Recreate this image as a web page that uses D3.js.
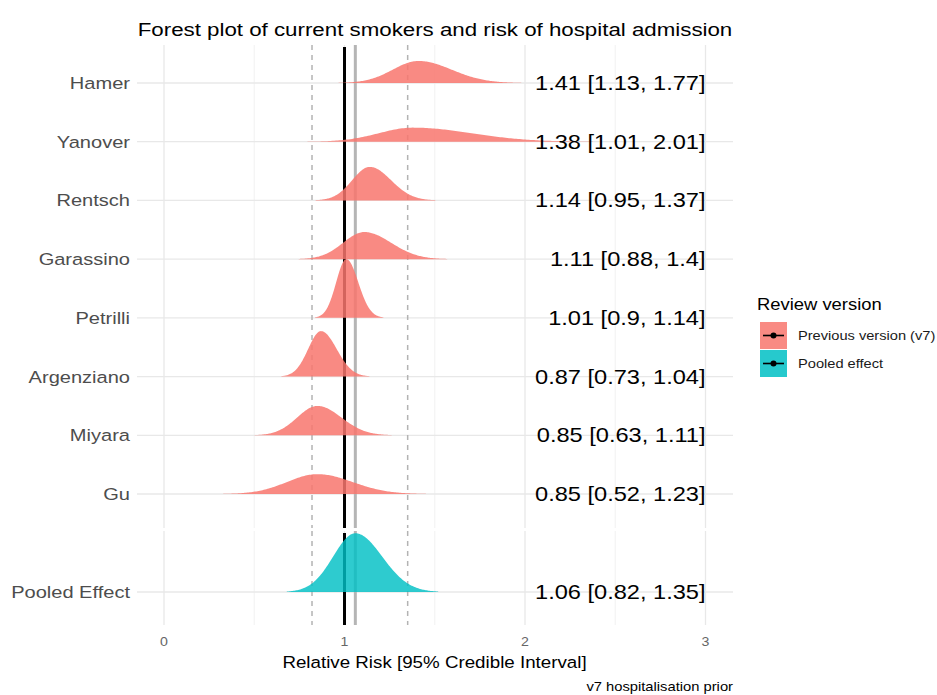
<!DOCTYPE html>
<html>
<head>
<meta charset="utf-8">
<script src="https://cdn.jsdelivr.net/npm/d3@7"></script>
<style>
  html, body { margin: 0; padding: 0; background: #ffffff; }
  svg { display: block; }
  text { font-family: "Liberation Sans", Arial, Helvetica, sans-serif; }
</style>
</head>
<body>
<svg id="chart" width="937" height="695"></svg>
<script>
// ---------------- data ----------------
const studies    = ["Hamer", "Yanover", "Rentsch", "Garassino", "Petrilli", "Argenziano", "Miyara", "Gu"];
const estimates  = [1.41, 1.38, 1.14, 1.11, 1.01, 0.87, 0.85, 0.85];
const lowers     = [1.13, 1.01, 0.95, 0.88, 0.90, 0.73, 0.63, 0.52];
const uppers     = [1.77, 2.01, 1.37, 1.40, 1.14, 1.04, 1.11, 1.23];

const pooledName     = "Pooled Effect";
const pooledEstimate = 1.06;
const pooledLower    = 0.82;
const pooledUpper    = 1.35;

const nullValue  = 1;
const xTicks     = [0, 1, 2, 3];
const xMinor     = [0.5, 1.5, 2.5];

const legendTitle  = "Review version";
const legendLabels = ["Previous version (v7)", "Pooled effect"];
const legendColors = ["#F8766D", "#00BFC4"];

const titleText   = "Forest plot of current smokers and risk of hospital admission";
const xTitleText  = "Relative Risk [95% Credible Interval]";
const captionText = "v7 hospitalisation prior";

// ---------------- layout ----------------
const svg = d3.select("#chart");
const SX = 1.18; // horizontal text stretch of the reference
const panelL = 137, panelR = 733;
const topPanel = { top: 45, bottom: 528 };
const botPanel = { top: 531, bottom: 625 };

const x = d3.scaleLinear().domain([0, 3]).range([164, 705.5]);
const nRows = studies.length;
const rowUnit = (494 - 83) / (nRows - 1);
const yTop = d3.scaleLinear()
  .domain([1 - (topPanel.bottom - 494) / rowUnit, nRows + (83 - topPanel.top) / rowUnit])
  .range([topPanel.bottom, topPanel.top]);
const yBot = d3.scaleLinear()
  .domain([1 - (botPanel.bottom - 592) / rowUnit, 1 + (592 - botPanel.top) / rowUnit])
  .range([botPanel.bottom, botPanel.top]);

function addText(parent, px, py, str, size, anchor, fill, weight) {
  return parent.append("text")
    .attr("transform", `translate(${px},${py}) scale(${SX},1)`)
    .attr("text-anchor", anchor || "start")
    .attr("font-size", size)
    .attr("font-weight", weight || "normal")
    .attr("fill", fill || "#000")
    .text(str);
}

// split-normal density curve derived from estimate and 95% interval
function densityCurve(est, lo, hi) {
  const sl = (est - lo) / 1.96, sr = (hi - est) / 1.96;
  const norm = 1 / (Math.sqrt(2 * Math.PI) * (sl + sr) / 2);
  const a = est - 3.1 * sl, b = est + 3.1 * sr;
  const n = 160, pts = [];
  for (let k = 0; k <= n; k++) {
    const v = a + (b - a) * k / n;
    const s = v < est ? sl : sr;
    const z = (v - est) / s;
    pts.push({ v, d: norm * Math.exp(-0.5 * z * z) });
  }
  return pts;
}

// ---------------- grid ----------------
const grid = svg.append("g");
[topPanel, botPanel].forEach(p => {
  xMinor.forEach(t => grid.append("line")
    .attr("x1", x(t)).attr("x2", x(t)).attr("y1", p.top).attr("y2", p.bottom)
    .attr("stroke", "#efefef").attr("stroke-width", 0.9));
  xTicks.forEach(t => grid.append("line")
    .attr("x1", x(t)).attr("x2", x(t)).attr("y1", p.top).attr("y2", p.bottom)
    .attr("stroke", "#e8e8e8").attr("stroke-width", 1.3));
});
studies.forEach((s, i) => grid.append("line")
  .attr("x1", panelL).attr("x2", panelR)
  .attr("y1", yTop(nRows - i)).attr("y2", yTop(nRows - i))
  .attr("stroke", "#e8e8e8").attr("stroke-width", 1.3));
grid.append("line")
  .attr("x1", panelL).attr("x2", panelR).attr("y1", yBot(1)).attr("y2", yBot(1))
  .attr("stroke", "#e8e8e8").attr("stroke-width", 1.3);

// ---------------- reference lines ----------------
const refs = svg.append("g");
[topPanel, botPanel].forEach(p => {
  [pooledLower, pooledUpper].forEach(v => refs.append("line")
    .attr("x1", x(v)).attr("x2", x(v)).attr("y1", p.top).attr("y2", p.bottom)
    .attr("stroke", "#b3b3b3").attr("stroke-width", 1.5).attr("stroke-dasharray", "5,5"));
  refs.append("line")
    .attr("x1", x(pooledEstimate)).attr("x2", x(pooledEstimate)).attr("y1", p.top).attr("y2", p.bottom)
    .attr("stroke", "#b5b5b5").attr("stroke-width", 3);
  refs.append("line")
    .attr("x1", x(nullValue)).attr("x2", x(nullValue)).attr("y1", p.top + 2).attr("y2", p.bottom)
    .attr("stroke", "#000").attr("stroke-width", 3);
});

// ---------------- densities ----------------
const curves = studies.map((s, i) => densityCurve(estimates[i], lowers[i], uppers[i]));
const maxStudy = d3.max(curves, c => d3.max(c, p => p.d));
const dens = svg.append("g");
curves.forEach((c, i) => {
  const row = nRows - i;
  const area = d3.area()
    .x(p => x(p.v))
    .y0(yTop(row))
    .y1(p => yTop(row + p.d / maxStudy));
  dens.append("path").attr("d", area(c))
    .attr("fill", legendColors[0]).attr("fill-opacity", 0.85);
});
const pooledCurve = densityCurve(pooledEstimate, pooledLower, pooledUpper);
const maxPooled = d3.max(pooledCurve, p => p.d);
dens.append("path")
  .attr("d", d3.area().x(p => x(p.v)).y0(yBot(1)).y1(p => yBot(1 + p.d / maxPooled))(pooledCurve))
  .attr("fill", legendColors[1]).attr("fill-opacity", 0.82);

// ---------------- labels ----------------
const fmt = d3.format(".2~f");
const labelG = svg.append("g");
studies.forEach((s, i) => {
  const yy = yTop(nRows - i);
  addText(labelG, 130, yy + 6, s, 17, "end", "#4d4d4d");
  addText(labelG, x(3), yy + 7,
    `${fmt(estimates[i])} [${fmt(lowers[i])}, ${fmt(uppers[i])}]`, 20, "end", "#000");
});
addText(labelG, 130, yBot(1) + 6, pooledName, 17, "end", "#4d4d4d");
addText(labelG, x(3), yBot(1) + 7,
  `${fmt(pooledEstimate)} [${fmt(pooledLower)}, ${fmt(pooledUpper)}]`, 20, "end", "#000");

// x axis tick labels
xTicks.forEach(t => addText(labelG, x(t), 646, String(t), 12, "middle", "#666"));

// titles
addText(svg, (panelL + panelR) / 2, 36, titleText, 18.9, "middle", "#000");
addText(svg, (panelL + panelR) / 2 - 0.5, 668, xTitleText, 15.9, "middle", "#000");
addText(svg, panelR, 691, captionText, 12.5, "end", "#000");

// ---------------- legend ----------------
const leg = svg.append("g");
addText(leg, 757, 310, legendTitle, 15.6, "start", "#000");
legendLabels.forEach((lab, i) => {
  const ky = 322 + i * 28;
  leg.append("rect").attr("x", 760).attr("y", ky).attr("width", 27).attr("height", 27)
    .attr("fill", legendColors[i]).attr("fill-opacity", 0.85);
  leg.append("line").attr("x1", 763).attr("x2", 784).attr("y1", ky + 13.5).attr("y2", ky + 13.5)
    .attr("stroke", "#000").attr("stroke-width", 1.6);
  leg.append("circle").attr("cx", 773.5).attr("cy", ky + 13.5).attr("r", 3).attr("fill", "#000");
  addText(leg, 798, ky + 18, lab, 12.4, "start", "#1a1a1a");
});
</script>
</body>
</html>
